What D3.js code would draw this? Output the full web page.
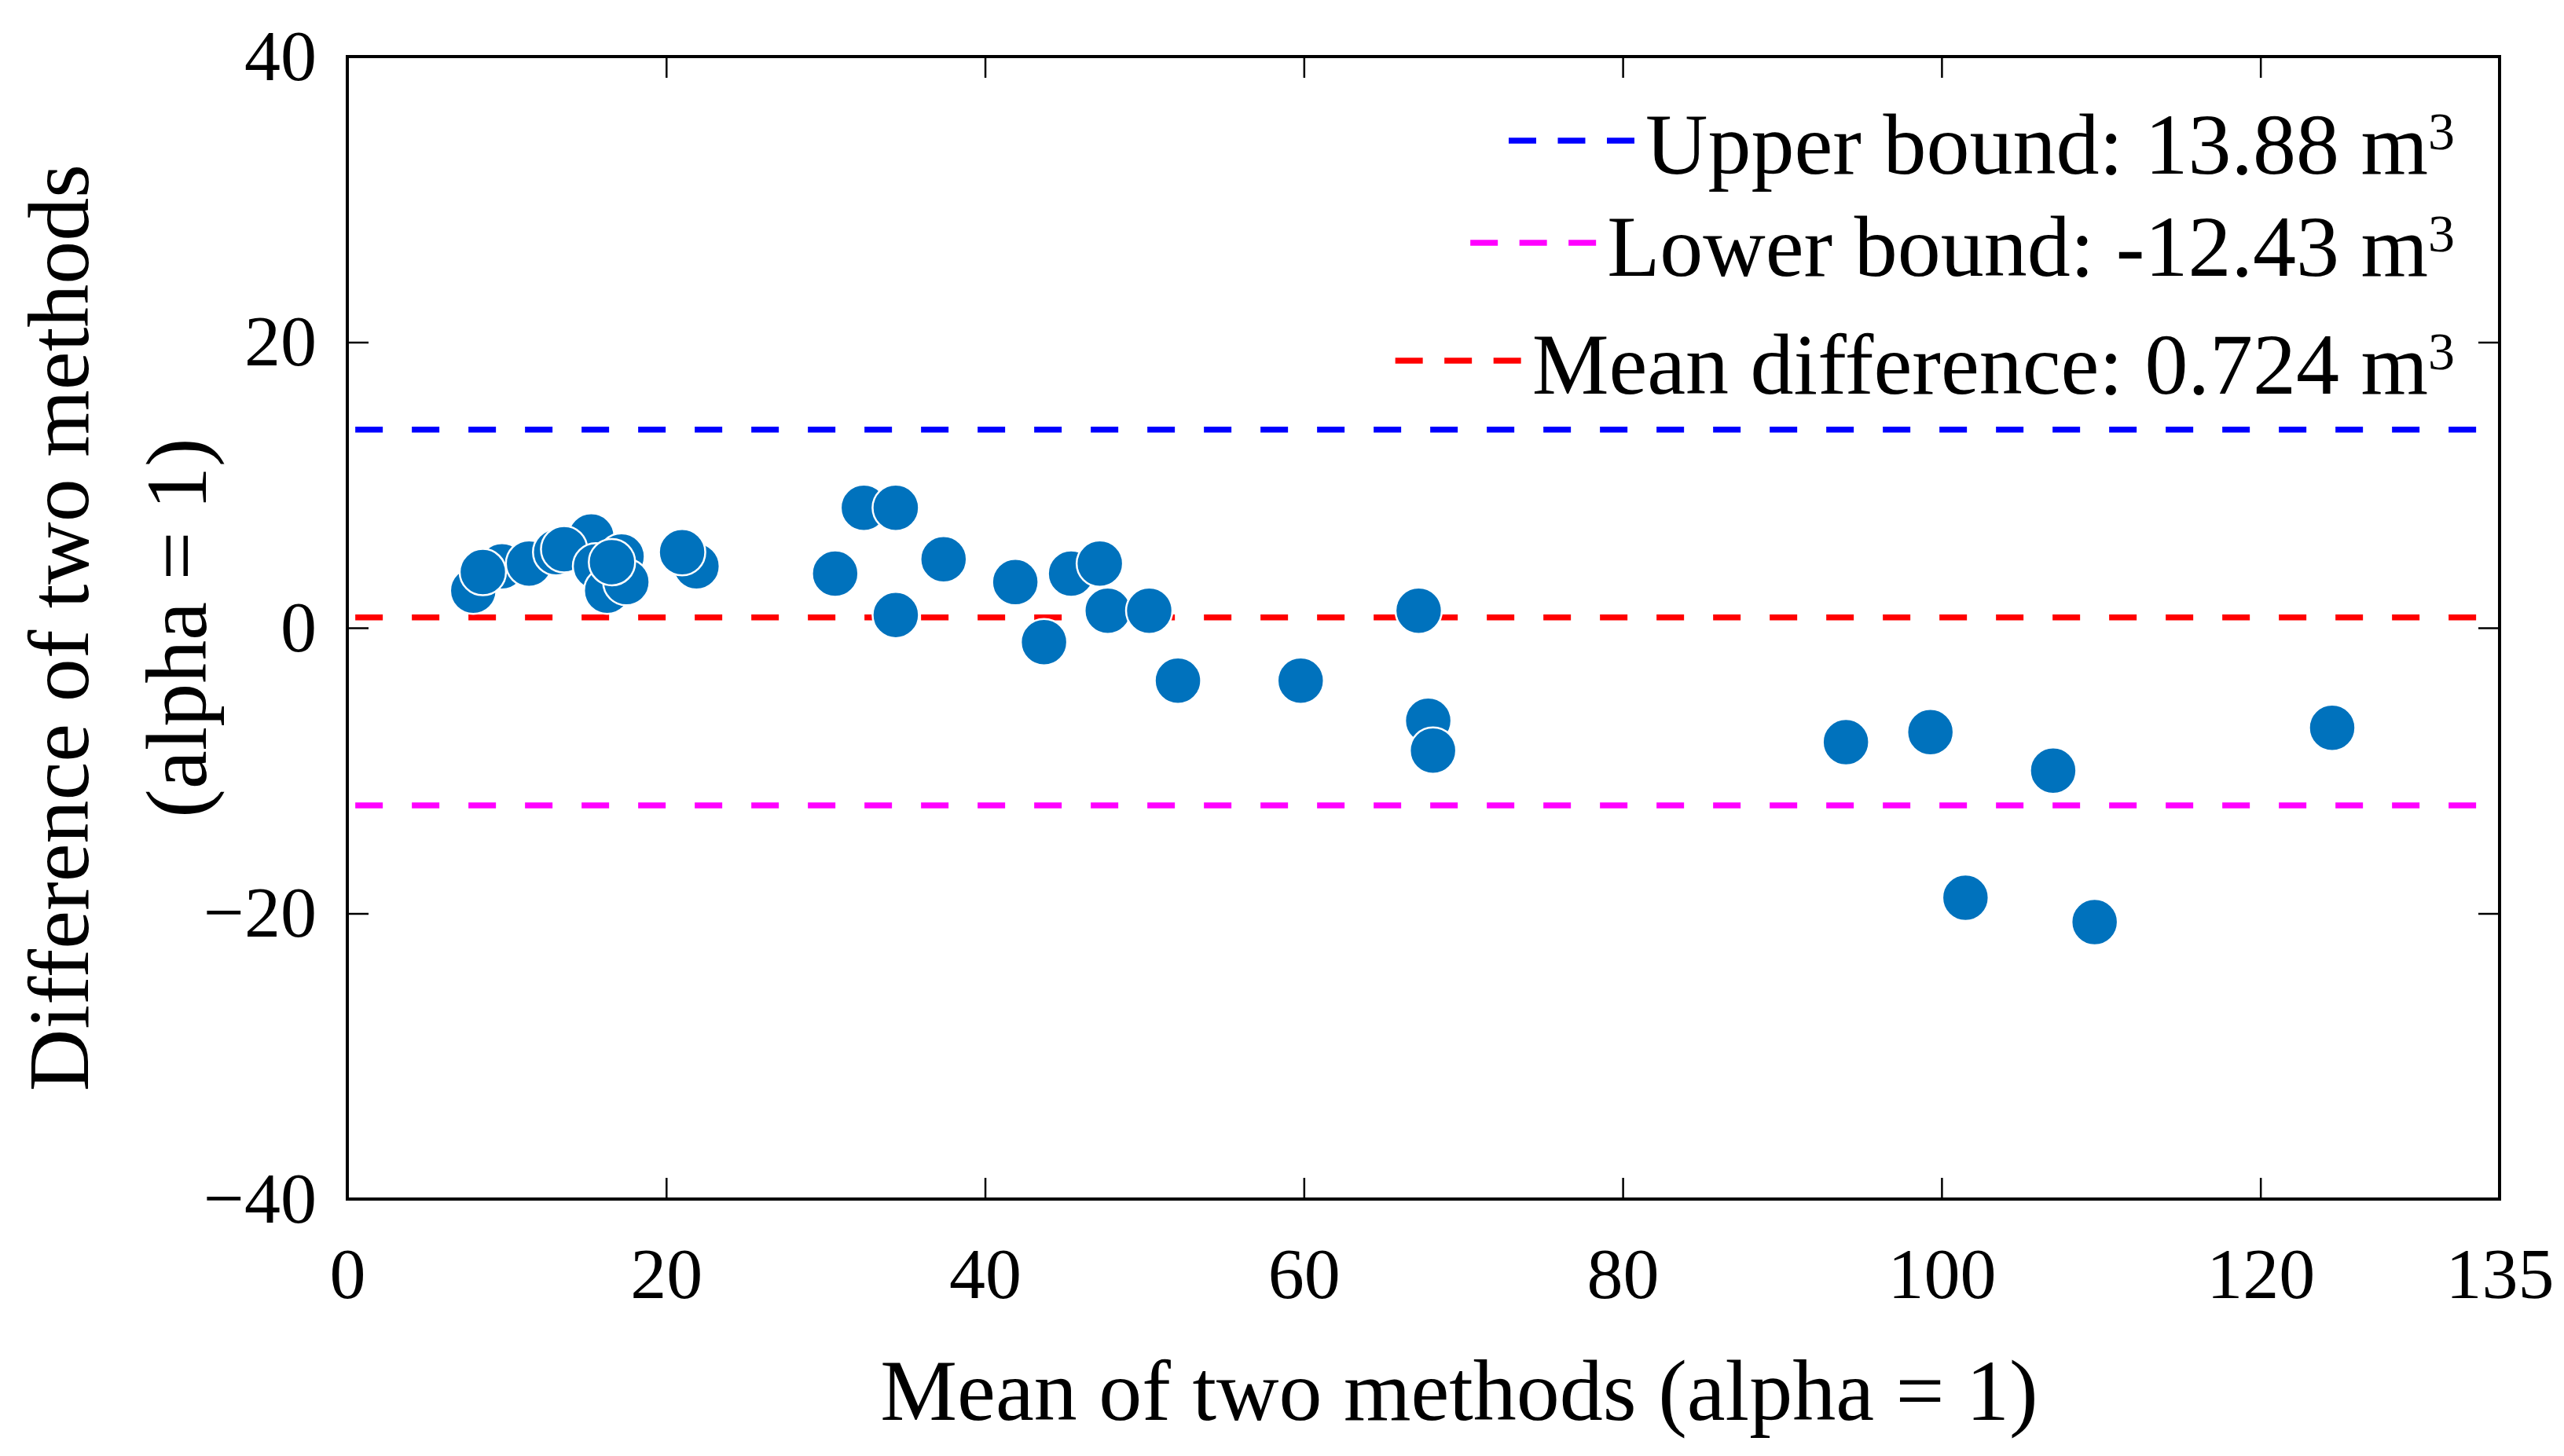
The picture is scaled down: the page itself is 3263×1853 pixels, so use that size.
<!DOCTYPE html>
<html>
<head>
<meta charset="utf-8">
<script src="https://cdn.jsdelivr.net/npm/d3@7"></script>
<style>
  body { margin: 0; background: #fff; }
  text { font-family: "Liberation Serif", "Times New Roman", serif; fill: #000; }
</style>
</head>
<body>
<svg width="3263" height="1853"></svg>
<script>
"use strict";

// Data.

var meanVals = [7.9, 9.7, 8.5, 11.4, 13.1, 15.3, 13.6, 15.6, 16.3, 17.2, 17.5, 16.6, 21.9, 21.0,
                30.6, 32.4, 34.4, 34.4, 37.4, 41.9, 43.7, 45.4, 47.2, 47.7, 50.3, 52.1,
                59.8, 67.2, 67.8, 68.1, 94.0, 99.3, 101.5, 107.0, 109.6, 124.5];
var diffVals = [2.6, 4.3, 3.9, 4.5, 5.3, 6.4, 5.5, 4.3, 2.6, 5.0, 3.2, 4.6, 4.3, 5.3,
                3.8, 8.4, 8.4, 0.9, 4.8, 3.2, -1.0, 3.8, 4.5, 1.2, 1.2, -3.7,
                -3.7, 1.2, -6.5, -8.6, -8.0, -7.3, -18.9, -10.0, -20.6, -7.0];

var boundNames = ["Upper bound: 13.88 m", "Lower bound: -12.43 m", "Mean difference: 0.724 m"];
var boundVals = [13.88, -12.43, 0.724];
var boundColors = ["#0000ff", "#ff00ff", "#ff0000"];
var boundSpan = [0.5, 134.5];

var xTicks = [0, 20, 40, 60, 80, 100, 120, 135];
var yTicks = [-40, -20, 0, 20, 40];

// SVG and layout.

var svg = d3.select("svg");
var width = +svg.attr("width");
var height = +svg.attr("height");

var Left = 442, Right = 3181, Top = 72, Bottom = 1526;
var TickLen = 27;
var TickFont = 92;
var LabelFont = 110;
var PointColor = "#0072bd";
var PointR = 29.5;
var DashWidth = 7.5;

var x = d3.scaleLinear().domain([0, 135]).range([Left, Right]);
var y = d3.scaleLinear().domain([-40, 40]).range([Bottom, Top]);

var fmt = function(d){ return d < 0 ? "\u2212" + Math.abs(d) : String(d); };

// Axes (ticks inward, mirrored on top and right).

var xAxis = svg.append("g")
    .attr("transform", "translate(0," + Bottom + ")")
    .call(d3.axisBottom(x).tickValues(xTicks).tickSize(-TickLen).tickPadding(TickLen + 34).tickFormat(fmt));
var xTop = svg.append("g")
    .attr("transform", "translate(0," + Top + ")")
    .call(d3.axisTop(x).tickValues(xTicks).tickSize(-TickLen).tickFormat(""));
var yAxis = svg.append("g")
    .attr("transform", "translate(" + Left + ",0)")
    .call(d3.axisLeft(y).tickValues(yTicks).tickSize(-TickLen).tickPadding(TickLen + 12).tickFormat(fmt));
var yRight = svg.append("g")
    .attr("transform", "translate(" + Right + ",0)")
    .call(d3.axisRight(y).tickValues(yTicks).tickSize(-TickLen).tickFormat(""));

[xAxis, xTop, yAxis, yRight].forEach(function(g){
    g.select(".domain").remove();
    g.selectAll(".tick line").attr("stroke", "#000").attr("stroke-width", 2.5);
    g.selectAll(".tick text").style("font-size", TickFont + "px").attr("fill", "#000");
});
// no ticks drawn on the corners
xTop.selectAll(".tick").filter(function(d){ return d === 0 || d === 135; }).select("line").remove();
xAxis.selectAll(".tick").filter(function(d){ return d === 0 || d === 135; }).select("line").remove();
yAxis.selectAll(".tick").filter(function(d){ return d === 40 || d === -40; }).select("line").remove();
yRight.selectAll(".tick").filter(function(d){ return d === 40 || d === -40; }).select("line").remove();

// Frame.
svg.append("rect")
    .attr("x", Left).attr("y", Top)
    .attr("width", Right - Left).attr("height", Bottom - Top)
    .attr("fill", "none").attr("stroke", "#000").attr("stroke-width", 4);

// Bound lines.
svg.append("g").selectAll("line")
    .data(boundVals)
    .enter().append("line")
        .attr("x1", x(boundSpan[0])).attr("x2", x(boundSpan[1]))
        .attr("y1", function(d){ return y(d); })
        .attr("y2", function(d){ return y(d); })
        .attr("stroke", function(d, i){ return boundColors[i]; })
        .attr("stroke-width", DashWidth)
        .attr("stroke-dasharray", "35,37");

// Points.
svg.append("g").selectAll("circle")
    .data(meanVals)
    .enter().append("circle")
        .attr("cx", function(d){ return x(d); })
        .attr("cy", function(d, i){ return y(diffVals[i]); })
        .attr("r", PointR)
        .attr("fill", PointColor)
        .attr("stroke", "#fff")
        .attr("stroke-width", 2.5);

// Axis labels.
svg.append("text")
    .attr("x", 1857).attr("y", 1807)
    .attr("text-anchor", "middle")
    .style("font-size", LabelFont + "px")
    .text("Mean of two methods (alpha = 1)");

var yl = svg.append("text")
    .attr("transform", "translate(0," + ((Top + Bottom) / 2) + ") rotate(-90)")
    .attr("text-anchor", "middle")
    .style("font-size", LabelFont + "px");
yl.append("tspan").attr("x", 0).attr("y", 112).text("Difference of two methods");
yl.append("tspan").attr("x", 0).attr("y", 262).text("(alpha = 1)");

// Legend.
var LegendRight = 3124;
var legendBase = [221, 351, 501];
boundNames.forEach(function(name, i){
    var t = svg.append("text")
        .attr("x", LegendRight).attr("y", legendBase[i])
        .attr("text-anchor", "end")
        .style("font-size", LabelFont + "px");
    t.append("tspan").text(name);
    t.append("tspan").attr("dy", -31).style("font-size", "68px").text("3");
    var bb = t.node().getBBox();
    svg.append("line")
        .attr("x1", bb.x - 174).attr("x2", bb.x - 14)
        .attr("y1", legendBase[i] - 42).attr("y2", legendBase[i] - 42)
        .attr("stroke", boundColors[i])
        .attr("stroke-width", DashWidth)
        .attr("stroke-dasharray", "35,27.5");
});
</script>
</body>
</html>
